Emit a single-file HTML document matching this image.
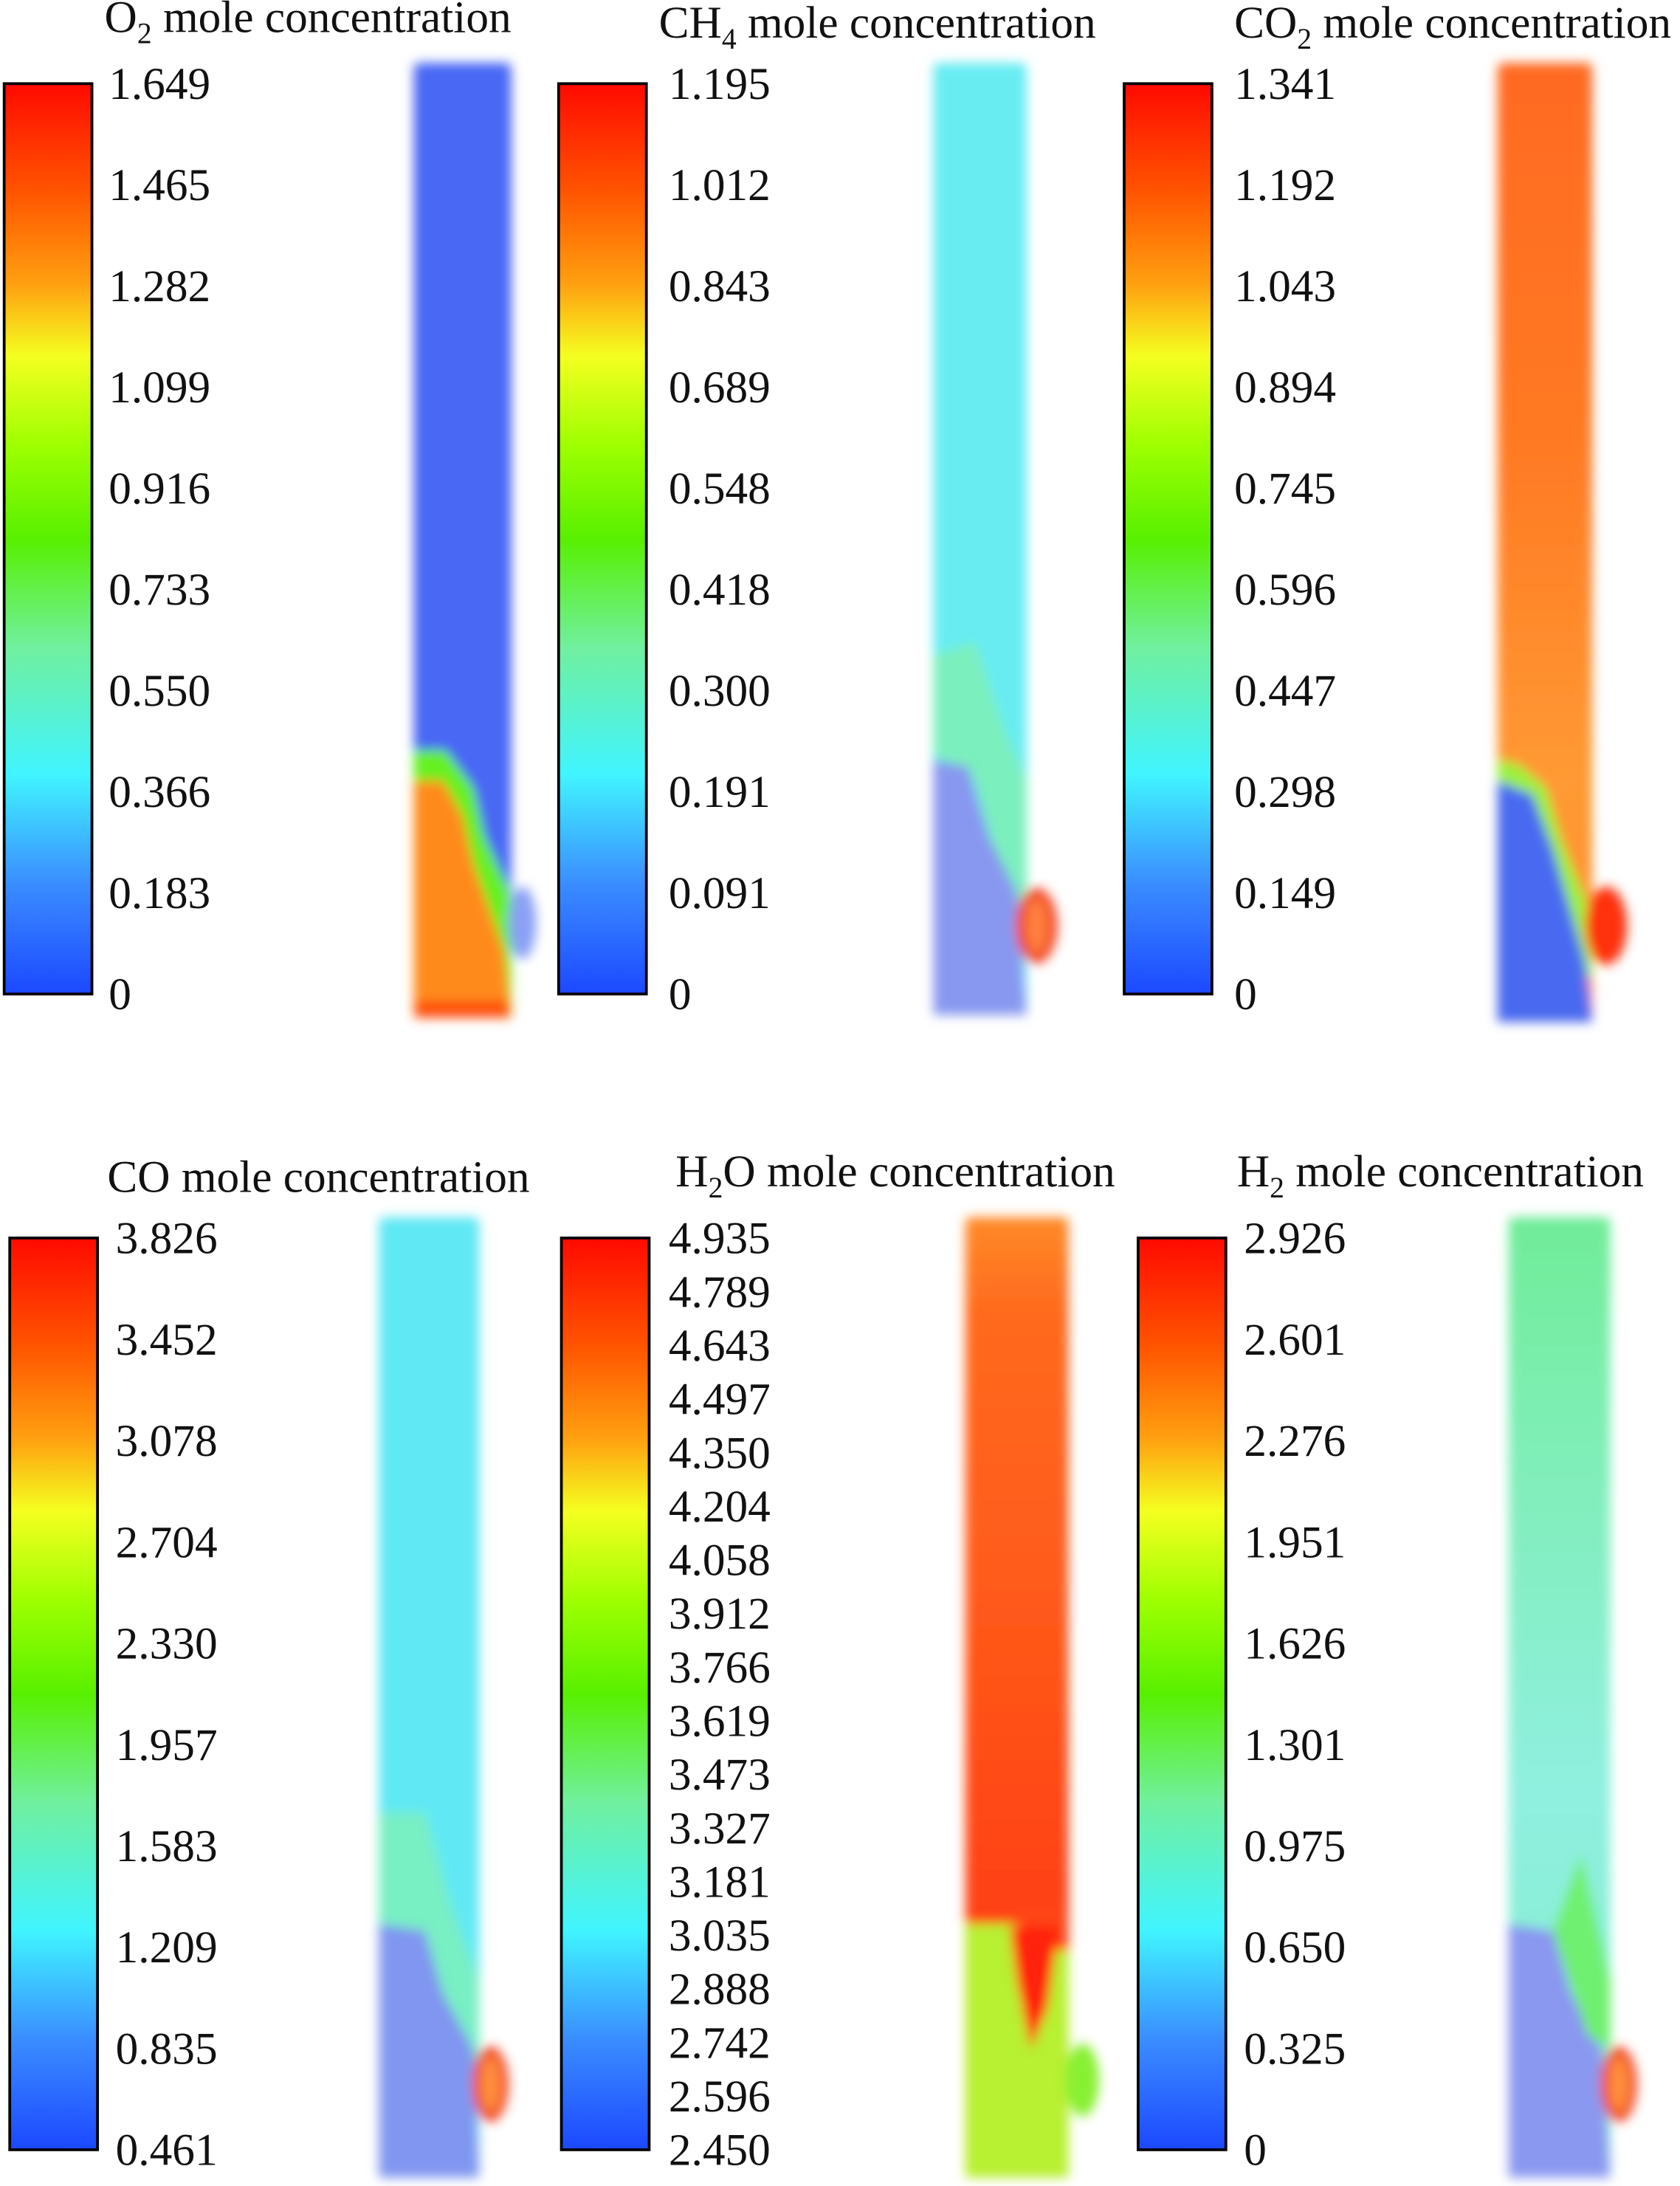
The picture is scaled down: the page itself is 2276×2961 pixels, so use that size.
<!DOCTYPE html>
<html><head><meta charset="utf-8"><style>
html,body{margin:0;padding:0;background:#fff;width:2276px;height:2961px;overflow:hidden}
svg{display:block}
text{font-family:"Liberation Serif",serif;fill:#111}
</style></head><body>
<svg id="fig" width="2276" height="2961" viewBox="0 0 1206 1568" preserveAspectRatio="none" xmlns="http://www.w3.org/2000/svg">
<defs>
<linearGradient id="jet" x1="0" y1="0" x2="0" y2="1">
<stop offset="0" stop-color="#ff0a00"/><stop offset="0.12" stop-color="#ff5500"/>
<stop offset="0.22" stop-color="#ffa010"/><stop offset="0.3" stop-color="#f4ff20"/>
<stop offset="0.4" stop-color="#9cff00"/><stop offset="0.5" stop-color="#58f000"/>
<stop offset="0.62" stop-color="#70f0a0"/><stop offset="0.76" stop-color="#40f4ff"/>
<stop offset="0.88" stop-color="#3a8cff"/><stop offset="1" stop-color="#1c48ff"/>
</linearGradient>
<linearGradient id="co2g" x1="0" y1="0" x2="0" y2="1">
<stop offset="0" stop-color="#ff6a20"/><stop offset="0.4" stop-color="#ff7a24"/><stop offset="0.75" stop-color="#ff9a34"/><stop offset="1" stop-color="#ff8a2a"/>
</linearGradient>
<linearGradient id="h2og" x1="0" y1="0" x2="0" y2="1">
<stop offset="0" stop-color="#ff8a28"/><stop offset="0.1" stop-color="#ff6a1e"/><stop offset="0.4" stop-color="#ff5a1a"/><stop offset="0.7" stop-color="#ff4216"/><stop offset="1" stop-color="#ff5a1a"/>
</linearGradient>
<linearGradient id="h2g" x1="0" y1="0" x2="0" y2="1">
<stop offset="0" stop-color="#70ec98"/><stop offset="0.25" stop-color="#80eeb8"/><stop offset="0.6" stop-color="#90f0e0"/><stop offset="1" stop-color="#80ecc8"/>
</linearGradient>
<filter id="blur"><feGaussianBlur stdDeviation="4"/></filter>
</defs>

<g filter="url(#blur)">
<rect x="297" y="45" width="70" height="685" rx="4" fill="#4a68f4"/>
<path d="M297 538 L320 538 L340 565 L348 600 L366 640 L367 690 L367 730 L297 730 Z" fill="#66f020"/>
<path d="M297 560 L318 560 L332 585 L340 620 L362 682 L367 730 L297 730 Z" fill="#ff8a1a"/>
<rect x="298" y="718" width="68" height="12" fill="#ff5010"/>
<ellipse cx="375" cy="662" rx="10" ry="26" fill="#8aa0f4"/>
</g>
<g filter="url(#blur)">
<rect x="670" y="45" width="67" height="683" rx="4" fill="#68ecf2"/>
<path d="M670 470 L700 460 L720 520 L737 560 L737 650 L725 650 L700 560 L670 540 Z" fill="#80f0b0" opacity="0.8"/>
<path d="M670 545 L695 550 L710 600 L730 640 L737 728 L670 728 Z" fill="#8898f0"/>
<ellipse cx="744" cy="664" rx="15" ry="27" fill="#f04020"/>
<ellipse cx="744" cy="664" rx="8" ry="20" fill="#ff8040"/>
</g>
<g filter="url(#blur)">
<rect x="1075" y="45" width="68" height="688" rx="4" fill="url(#co2g)"/>
<path d="M1075 545 L1090 548 L1110 565 L1120 600 L1140 650 L1143 700 L1120 700 L1100 610 L1075 575 Z" fill="#9cf040"/>
<path d="M1075 560 L1100 570 L1115 610 L1138 690 L1143 733 L1075 733 Z" fill="#4a6af0"/>
<ellipse cx="1153" cy="664" rx="15" ry="28" fill="#ff3010"/>
</g>
<g filter="url(#blur)">
<rect x="272" y="873" width="72" height="689" rx="4" fill="#60e8f4"/>
<path d="M272 1300 L305 1300 L325 1370 L344 1420 L344 1480 L330 1480 L310 1400 L272 1390 Z" fill="#80f0b8" opacity="0.8"/>
<path d="M272 1380 L305 1385 L318 1430 L340 1470 L344 1562 L272 1562 Z" fill="#8096f0"/>
<ellipse cx="352" cy="1495" rx="13" ry="27" fill="#f04020"/>
<ellipse cx="352" cy="1495" rx="7" ry="20" fill="#ff9040"/>
</g>
<g filter="url(#blur)">
<rect x="693" y="873" width="74" height="689" rx="4" fill="url(#h2og)"/>
<path d="M693 1380 L730 1380 L745 1395 L767 1400 L767 1562 L693 1562 Z" fill="#b8f030"/>
<path d="M725 1382 L760 1382 L752 1440 L740 1470 L730 1420 Z" fill="#ff2010"/>
<ellipse cx="777" cy="1492" rx="12" ry="26" fill="#88f030"/>
</g>
<g filter="url(#blur)">
<rect x="1083" y="873" width="73" height="689" rx="4" fill="url(#h2g)"/>
<path d="M1083 1380 L1115 1385 L1128 1430 L1150 1470 L1156 1562 L1083 1562 Z" fill="#8a98f0"/>
<path d="M1115 1385 L1135 1330 L1156 1420 L1156 1470 L1140 1460 Z" fill="#70f070"/>
<ellipse cx="1162" cy="1495" rx="13" ry="27" fill="#f04020"/>
<ellipse cx="1162" cy="1495" rx="7" ry="20" fill="#ff9040"/>
</g>

<g id="bars"></g>
</svg>
<script>
const o2Ticks=["1.649","1.465","1.282","1.099","0.916","0.733","0.550","0.366","0.183","0"];
const ch4Ticks=["1.195","1.012","0.843","0.689","0.548","0.418","0.300","0.191","0.091","0"];
const co2Ticks=["1.341","1.192","1.043","0.894","0.745","0.596","0.447","0.298","0.149","0"];
const coTicks=["3.826","3.452","3.078","2.704","2.330","1.957","1.583","1.209","0.835","0.461"];
const h2oTicks=["4.935","4.789","4.643","4.497","4.350","4.204","4.058","3.912","3.766","3.619","3.473","3.327","3.181","3.035","2.888","2.742","2.596","2.450"];
const h2Ticks=["2.926","2.601","2.276","1.951","1.626","1.301","0.975","0.650","0.325","0"];
const panels=[
 {name:"o2",sp:"O",sub:"2",rest:" mole concentration",tx:75,ty:23,bx:3,y0:60,y1:713,lx:78,ticks:o2Ticks},
 {name:"ch4",sp:"CH",sub:"4",rest:" mole concentration",tx:473,ty:27,bx:401,y0:60,y1:713,lx:480,ticks:ch4Ticks},
 {name:"co2",sp:"CO",sub:"2",rest:" mole concentration",tx:886,ty:27,bx:807,y0:60,y1:713,lx:886,ticks:co2Ticks},
 {name:"co",sp:"CO",sub:"",rest:" mole concentration",tx:77,ty:855,bx:7,y0:888,y1:1542,lx:83,ticks:coTicks},
 {name:"h2o",sp:"H",sub:"2",rest:"O mole concentration",tx:485,ty:851,bx:403,y0:888,y1:1542,lx:480,ticks:h2oTicks},
 {name:"h2",sp:"H",sub:"2",rest:" mole concentration",tx:888,ty:851,bx:817,y0:888,y1:1542,lx:893,ticks:h2Ticks}
];
const NS="http://www.w3.org/2000/svg";
const g=document.getElementById("bars");
function mk(t,a){const e=document.createElementNS(NS,t);for(const k in a)e.setAttribute(k,a[k]);return e;}
panels.forEach(p=>{
 const r=mk("rect",{x:p.bx,y:p.y0,width:63,height:p.y1-p.y0,fill:"url(#jet)",stroke:"#000","stroke-width":2});
 
 
 g.appendChild(r);
 const t=mk("text",{x:p.tx,y:p.ty,"font-size":32.5});
 
 
 t.appendChild(document.createTextNode(p.sp));
 if(p.sub){const s=mk("tspan",{"font-size":21,dy:8});s.textContent=p.sub;t.appendChild(s);
  const s2=mk("tspan",{dy:-8});s2.textContent=p.rest;t.appendChild(s2);}
 else t.appendChild(document.createTextNode(p.rest));
 g.appendChild(t);
 const n=p.ticks.length;
 p.ticks.forEach((v,i)=>{
  const y=p.y0+(p.y1-p.y0)*i/(n-1);
  const l=mk("text",{x:p.lx,y:y+11,"font-size":32.5});
  
  
  l.textContent=v;g.appendChild(l);
 });
});
</script>
</body></html>
